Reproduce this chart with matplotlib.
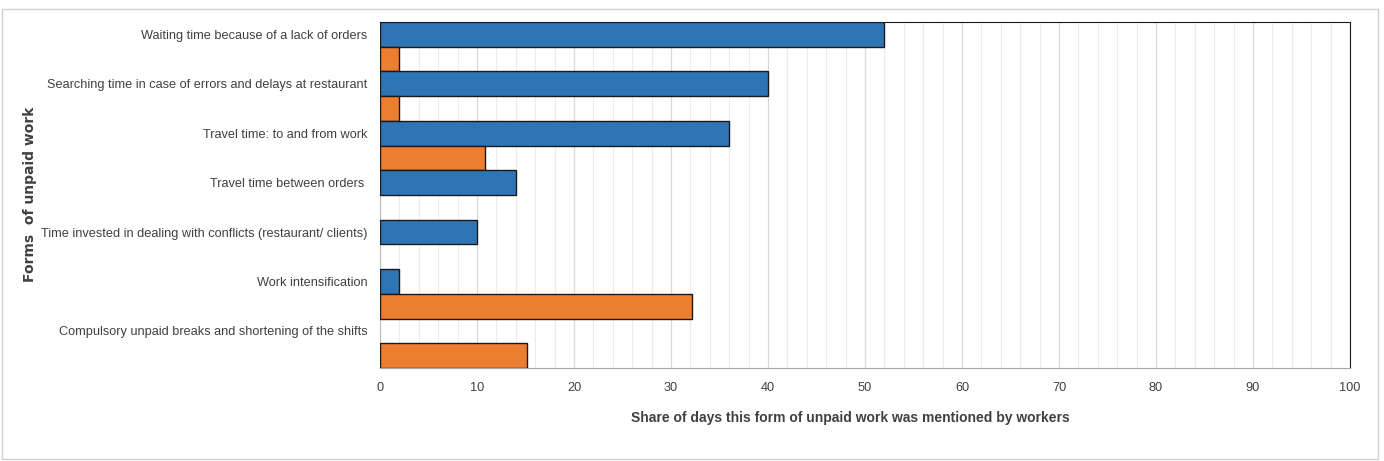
import matplotlib.pyplot as plt
import numpy as np
from matplotlib.patches import Rectangle

plt.rcParams['font.family'] = ['Liberation Sans', 'DejaVu Sans']

categories = ['Waiting time because of a lack of orders',
              'Searching time in case of errors and delays at restaurant',
              'Travel time: to and from work',
              'Travel time between orders ',
              'Time invested in dealing with conflicts (restaurant/ clients)',
              'Work intensification',
              'Compulsory unpaid breaks and shortening of the shifts']
blue_vals = [52, 40, 36, 14, 10, 2, 0]
orange_vals = [2, 2, 10.8, 0, 0, 32.2, 15.2]
xticks = list(range(0, 101, 10))

fig = plt.figure(figsize=(13.84, 4.61), dpi=100)
ax = fig.add_axes([380 / 1384, 1 - 368 / 461, 970 / 1384, 346 / 461])

pos = np.arange(len(categories))
h = 0.5
# blue bar sits on the category row, orange right under it
for i in range(len(categories)):
    if blue_vals[i] > 0:
        ax.barh(pos[i], blue_vals[i], height=h, color='#2E75B6', edgecolor='#1a1a1a', linewidth=1, zorder=3)
    if orange_vals[i] > 0:
        ax.barh(pos[i] + h, orange_vals[i], height=h, color='#ED7D31', edgecolor='#1a1a1a', linewidth=1, zorder=3)

ax.set_xlim(0, 100)
ax.set_ylim(len(categories) - 0.25, -0.25)
ax.set_yticks(pos)
ax.set_yticklabels(categories, fontsize=9.2, color='#404040')
ax.set_xticks(xticks)
ax.set_xticklabels([str(t) for t in xticks], fontsize=9.2, color='#404040')
ax.set_xticks(np.arange(0, 101, 2), minor=True)
ax.tick_params(axis='y', which='both', length=0, pad=9)
ax.tick_params(axis='x', which='both', length=0, pad=10)
ax.grid(axis='x', which='minor', color='#ececec', linewidth=0.8, zorder=0)
ax.grid(axis='x', which='major', color='#d9d9d9', linewidth=0.9, zorder=0)

for side in ['top', 'right']:
    ax.spines[side].set_color('#1a1a1a')
ax.spines['left'].set_color('#bfbfbf')
ax.spines['bottom'].set_color('#a6a6a6')

ax.set_xlabel('Share of days this form of unpaid work was mentioned by workers',
              fontsize=10, fontweight='bold', color='#404040')
ax.xaxis.set_label_coords(0.4845, -0.125)
fig.text(30 / 1384, 1 - 194 / 461, 'Forms  of unpaid work', rotation=90, ha='center', va='center',
         fontsize=10, fontweight='bold', color='#404040', family=['DejaVu Sans'])

fig.patches.append(Rectangle((2 / 1384, 2 / 461), 1376 / 1384, 450 / 461, transform=fig.transFigure,
                             fill=False, edgecolor='#d0d0d0', linewidth=1))

fig.savefig('out.png', dpi=100)
